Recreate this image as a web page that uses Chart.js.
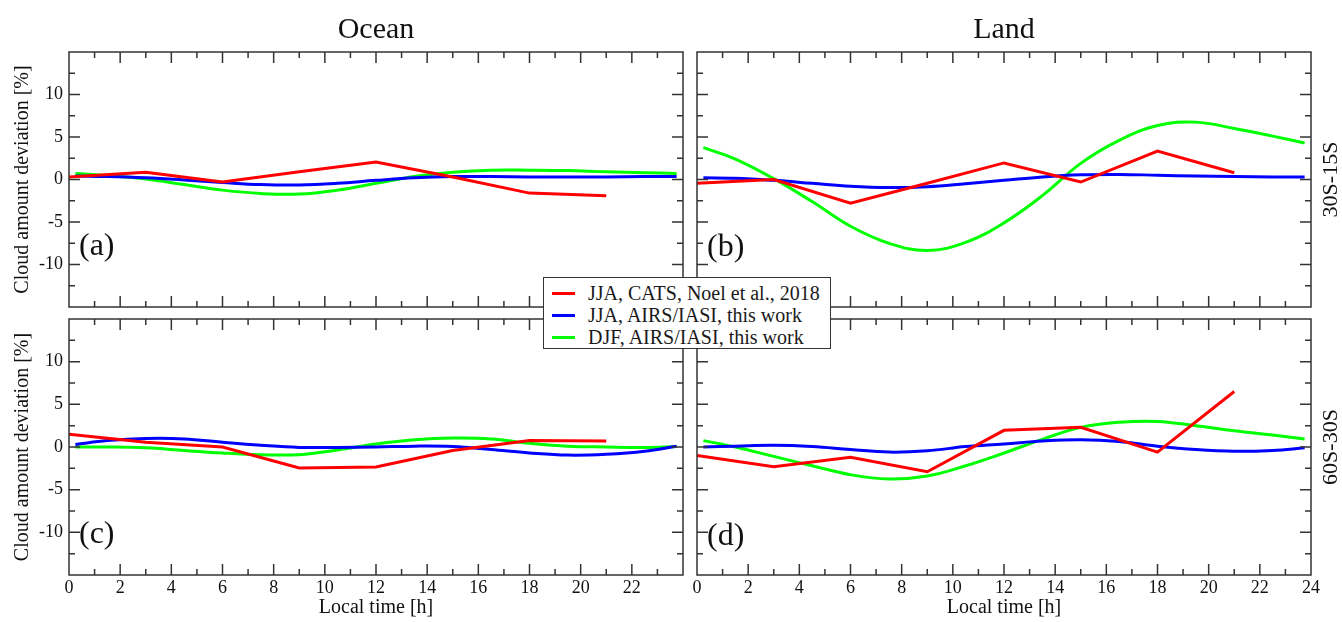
<!DOCTYPE html>
<html>
<head>
<meta charset="utf-8">
<script src="https://cdn.jsdelivr.net/npm/chart.js@4.4.0/dist/chart.umd.min.js"></script>
<style>
  html, body { margin: 0; padding: 0; background: #fff; }
  #wrap { position: relative; width: 1342px; height: 622px; overflow: hidden; }
  #wrap canvas { position: absolute; left: 0; top: 0; }
  #legend {
    position: absolute; left: 543px; top: 277px; width: 288px; height: 72px;
    background: #fff; border: 1.5px solid #333; box-sizing: border-box;
    font-family: "Liberation Serif", serif; font-size: 20px; color: #1a1a1a;
  }
  #legend .row { position: absolute; left: 0; height: 22px; line-height: 22px; white-space: nowrap; }
  #legend .swatch { position: absolute; left: 8px; top: 10px; width: 23px; height: 3px; }
  #legend .txt { position: absolute; left: 44px; top: 0; }
</style>
</head>
<body>
<div id="wrap">
  <canvas id="pa" width="1342" height="622"></canvas>
  <canvas id="pb" width="1342" height="622"></canvas>
  <canvas id="pc" width="1342" height="622"></canvas>
  <canvas id="pd" width="1342" height="622"></canvas>
  <div id="legend"></div>
</div>
<script>
// series names and colours
const seriesNames = ['JJA, CATS, Noel et al., 2018', 'JJA, AIRS/IASI, this work', 'DJF, AIRS/IASI, this work'];
const seriesColors = ['#ff0000', '#0000ff', '#00ff00'];

// local time [h]
const catsHours = [0, 3, 6, 9, 12, 15, 18, 21];
const fitHours = [0.25, 1.5, 3, 4.5, 6, 7.5, 9, 10.5, 12, 13.5, 15, 16.5, 18, 19.5, 21, 22.5, 23.75];

// (a) ocean, 30S-15S
const oceanTropCats = [0.3, 0.85, -0.3, 0.9, 2.05, 0.3, -1.6, -1.9];
const oceanTropJja = [0.4, 0.35, 0.2, -0.05, -0.35, -0.6, -0.65, -0.45, -0.1, 0.2, 0.35, 0.35, 0.3, 0.3, 0.3, 0.35, 0.35];
const oceanTropDjf = [0.7, 0.45, 0.05, -0.6, -1.25, -1.65, -1.72, -1.25, -0.45, 0.35, 0.85, 1.1, 1.1, 1.05, 0.9, 0.8, 0.7];

// (b) land, 30S-15S
const landTropCats = [-0.45, 0.0, -2.8, -0.45, 1.95, -0.3, 3.35, 0.8];
const landTropJja = [0.2, 0.15, -0.1, -0.45, -0.8, -0.95, -0.85, -0.5, -0.1, 0.3, 0.55, 0.6, 0.5, 0.4, 0.35, 0.3, 0.3];
const landTropDjf = [3.75, 2.4, 0.1, -2.6, -5.5, -7.5, -8.35, -7.4, -5.1, -1.9, 1.9, 4.6, 6.35, 6.75, 6.0, 5.1, 4.3];

// (c) ocean, 60S-30S
const oceanMidCats = [1.5, 0.55, 0.0, -2.45, -2.35, -0.4, 0.75, 0.7];
const oceanMidJja = [0.3, 0.75, 1.0, 0.95, 0.55, 0.2, -0.05, -0.05, 0.0, 0.1, 0.05, -0.3, -0.7, -0.95, -0.85, -0.5, 0.1];
const oceanMidDjf = [0.0, 0.0, -0.1, -0.4, -0.7, -0.9, -0.9, -0.35, 0.35, 0.85, 1.05, 0.95, 0.45, 0.1, 0.0, -0.05, 0.05];

// (d) land, 60S-30S
const landMidCats = [-1.0, -2.3, -1.2, -2.9, 1.95, 2.3, -0.6, 6.5];
const landMidJja = [0.0, 0.1, 0.2, 0.05, -0.3, -0.6, -0.45, 0.05, 0.35, 0.7, 0.85, 0.65, 0.1, -0.3, -0.5, -0.4, -0.1];
const landMidDjf = [0.75, 0.0, -1.1, -2.2, -3.25, -3.75, -3.4, -2.2, -0.7, 0.9, 2.3, 2.9, 3.0, 2.5, 1.9, 1.4, 0.95];

const FONT = '"Liberation Serif", "Times New Roman", serif';
const INK = '#111';

// frame, inward ticks and the panel texts
const framePlugin = {
  id: 'frame',
  afterDraw(chart, args, o) {
    const { ctx, chartArea: a } = chart;
    const x = chart.scales.x, y = chart.scales.y;
    ctx.save();
    ctx.strokeStyle = '#333';
    ctx.lineWidth = 1.5;
    ctx.strokeRect(a.left, a.top, a.right - a.left, a.bottom - a.top);
    ctx.beginPath();
    for (let h = 1; h < 24; h++) {
      const px = x.getPixelForValue(h);
      const len = h % 2 ? 6 : 11;
      ctx.moveTo(px, a.top); ctx.lineTo(px, a.top + len);
      ctx.moveTo(px, a.bottom); ctx.lineTo(px, a.bottom - len);
    }
    for (let v = -12.5; v < 15; v += 2.5) {
      const py = y.getPixelForValue(v);
      const len = v % 5 ? 6 : 11;
      ctx.moveTo(a.left, py); ctx.lineTo(a.left + len, py);
      ctx.moveTo(a.right, py); ctx.lineTo(a.right - len, py);
    }
    ctx.stroke();

    const cx = (a.left + a.right) / 2, cy = (a.top + a.bottom) / 2;
    ctx.fillStyle = INK;
    if (o.title) {
      ctx.font = '30px ' + FONT;
      ctx.textAlign = 'center';
      ctx.textBaseline = 'alphabetic';
      ctx.fillText(o.title, cx, a.top - 14);
    }
    ctx.font = '32px ' + FONT;
    ctx.textAlign = 'left';
    ctx.textBaseline = 'alphabetic';
    ctx.fillText(o.tag, a.left + 10, o.tagBase);
    if (o.xTitle) {
      ctx.font = '20px ' + FONT;
      ctx.textAlign = 'center';
      ctx.fillText('Local time [h]', cx, 613);
    }
    if (o.yTitle) {
      ctx.save();
      ctx.translate(23, cy);
      ctx.rotate(-Math.PI / 2);
      ctx.font = '20px ' + FONT;
      ctx.textAlign = 'center';
      ctx.textBaseline = 'middle';
      ctx.fillText('Cloud amount deviation [%]', 0, 0);
      ctx.restore();
    }
    if (o.side) {
      ctx.save();
      ctx.translate(1331, cy);
      ctx.rotate(-Math.PI / 2);
      ctx.font = '22px ' + FONT;
      ctx.textAlign = 'center';
      ctx.textBaseline = 'middle';
      ctx.fillText(o.side, 0, 0);
      ctx.restore();
    }
    ctx.restore();
  }
};

function pts(xs, ys) {
  return ys.map((v, i) => ({ x: xs[i], y: v }));
}

function makePanel(canvasId, p, cats, jja, djf) {
  const yw = p.yLabels ? 50 : 0;
  const xh = p.xLabels ? 26 : 0;
  return new Chart(document.getElementById(canvasId), {
    type: 'line',
    data: {
      datasets: [
        { label: seriesNames[0], data: pts(catsHours, cats), borderColor: seriesColors[0], tension: 0 },
        { label: seriesNames[1], data: pts(fitHours, jja), borderColor: seriesColors[1], tension: 0.4 },
        { label: seriesNames[2], data: pts(fitHours, djf), borderColor: seriesColors[2], tension: 0.4 }
      ]
    },
    options: {
      responsive: false,
      animation: false,
      devicePixelRatio: 1,
      layout: { padding: { left: p.l - yw, top: p.t, right: 1342 - p.r, bottom: 622 - p.b - xh } },
      elements: { point: { radius: 0 }, line: { borderWidth: 3, fill: false } },
      plugins: {
        legend: { display: false },
        tooltip: { enabled: false },
        frame: p
      },
      scales: {
        x: {
          type: 'linear', min: 0, max: 24,
          grid: { display: false, drawTicks: false },
          border: { display: false },
          afterFit: s => { s.height = xh; },
          ticks: {
            display: p.xLabels, stepSize: 2, autoSkip: false, maxRotation: 0, padding: 2,
            color: INK, font: { family: FONT, size: 18 },
            callback: v => (p.hide24 && v === 24) ? '' : v
          }
        },
        y: {
          type: 'linear', min: -15, max: 15,
          grid: { display: false, drawTicks: false },
          border: { display: false },
          afterFit: s => { s.width = yw; },
          ticks: {
            display: p.yLabels, stepSize: 5, autoSkip: false, padding: 6,
            color: INK, font: { family: FONT, size: 18 },
            callback: v => Math.abs(v) === 15 ? '' : v
          }
        }
      }
    },
    plugins: [framePlugin]
  });
}

makePanel('pa', { l: 69, t: 52, r: 683, b: 307, yLabels: true, xLabels: false, hide24: true,
  title: 'Ocean', tag: '(a)', tagBase: 255, yTitle: true }, oceanTropCats, oceanTropJja, oceanTropDjf);
makePanel('pb', { l: 697, t: 52, r: 1311, b: 307, yLabels: false, xLabels: false,
  title: 'Land', tag: '(b)', tagBase: 256, side: '30S-15S' }, landTropCats, landTropJja, landTropDjf);
makePanel('pc', { l: 69, t: 319, r: 683, b: 575, yLabels: true, xLabels: true, hide24: true,
  tag: '(c)', tagBase: 543, yTitle: true, xTitle: true }, oceanMidCats, oceanMidJja, oceanMidDjf);
makePanel('pd', { l: 697, t: 319, r: 1311, b: 575, yLabels: false, xLabels: true,
  tag: '(d)', tagBase: 545, side: '60S-30S', xTitle: true }, landMidCats, landMidJja, landMidDjf);

// legend box
const legend = document.getElementById('legend');
const rowTops = [4, 26, 48];
seriesNames.forEach((name, i) => {
  const row = document.createElement('div');
  row.className = 'row';
  row.style.top = rowTops[i] + 'px';
  row.innerHTML = '<span class="swatch" style="background:' + seriesColors[i] + '"></span><span class="txt">' + name + '</span>';
  legend.appendChild(row);
});
</script>
</body>
</html>
